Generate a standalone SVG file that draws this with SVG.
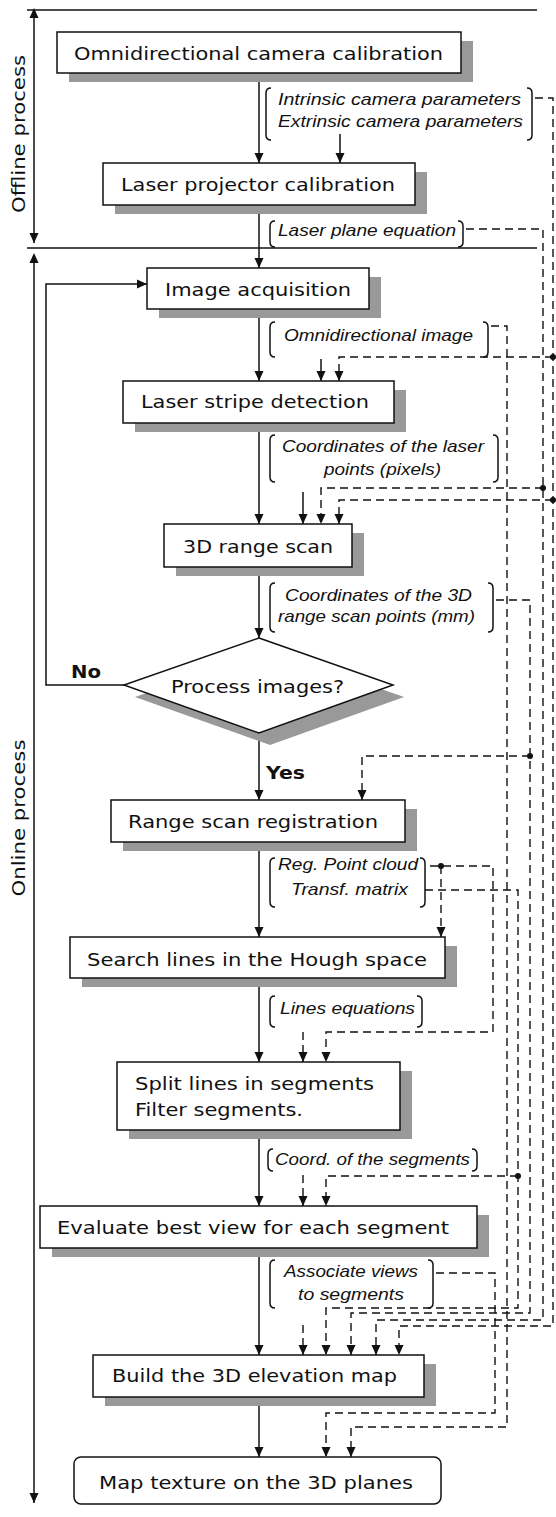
<svg xmlns="http://www.w3.org/2000/svg" width="556" height="1517" viewBox="0 0 556 1517">
<style>
.bg{fill:#fff}
.box{fill:#fff;stroke:#111;stroke-width:1.5}
.sh{fill:#999}
.ln{fill:none;stroke:#111;stroke-width:1.5}
.dash{fill:none;stroke:#111;stroke-width:1.4;stroke-dasharray:8 5}
.br{fill:none;stroke:#111;stroke-width:1.5}
.t{font-family:"DejaVu Sans",Verdana,sans-serif;font-size:18px;fill:#111}
.lb{font-family:"Liberation Sans",Arial,sans-serif;font-style:italic;font-size:16.5px;fill:#111}
.b{font-weight:bold;font-size:17px}
.dot{fill:#111}
</style>
<defs>
<marker id="ah" viewBox="0 0 10 10" refX="10" refY="5" markerWidth="10" markerHeight="10" markerUnits="userSpaceOnUse" orient="auto">
<path d="M0,0.5 L10,5 L0,9.5 Z" fill="#111"/>
</marker>
<marker id="ahs" viewBox="0 0 10 10" refX="0" refY="5" markerWidth="10" markerHeight="10" markerUnits="userSpaceOnUse" orient="auto-start-reverse">
<path d="M0,0.5 L10,5 L0,9.5 Z" fill="#111"/>
</marker>
</defs>
<rect class="bg" x="0" y="0" width="556" height="1517"/>

<g id="frame">
<line class="ln" x1="27" y1="10" x2="537" y2="10"/>
<line class="ln" x1="27" y1="248" x2="537" y2="248"/>
<line class="ln" x1="34" y1="18" x2="34" y2="243" marker-start="url(#ahs)" marker-end="url(#ah)"/>
<line class="ln" x1="34" y1="263" x2="34" y2="1503" marker-start="url(#ahs)" marker-end="url(#ah)"/>
<text class="t" transform="translate(25,134) rotate(-90)" text-anchor="middle" font-size="18" textLength="158" lengthAdjust="spacingAndGlyphs">Offline process</text>
<text class="t" transform="translate(25,818) rotate(-90)" text-anchor="middle" font-size="18" textLength="157" lengthAdjust="spacingAndGlyphs">Online process</text>
</g>

<g id="connectors">
<line class="ln" x1="259" y1="73" x2="259" y2="163" marker-end="url(#ah)"/>
<line class="ln" x1="259" y1="205" x2="259" y2="268" marker-end="url(#ah)"/>
<line class="ln" x1="259" y1="309" x2="259" y2="381" marker-end="url(#ah)"/>
<line class="ln" x1="259" y1="423" x2="259" y2="524" marker-end="url(#ah)"/>
<line class="ln" x1="259" y1="567" x2="259" y2="638" marker-end="url(#ah)"/>
<line class="ln" x1="259" y1="733" x2="259" y2="800" marker-end="url(#ah)"/>
<line class="ln" x1="259" y1="842" x2="259" y2="937" marker-end="url(#ah)"/>
<line class="ln" x1="259" y1="978" x2="259" y2="1062" marker-end="url(#ah)"/>
<line class="ln" x1="259" y1="1130" x2="259" y2="1206" marker-end="url(#ah)"/>
<line class="ln" x1="259" y1="1248" x2="259" y2="1355" marker-end="url(#ah)"/>
<line class="ln" x1="259" y1="1397" x2="259" y2="1457" marker-end="url(#ah)"/>
<path class="ln" d="M124,685 H46 V284 H147" marker-end="url(#ah)"/>
<text class="t b" x="71" y="678" textLength="30" lengthAdjust="spacingAndGlyphs">No</text>
<text class="t b" x="266" y="779" textLength="39" lengthAdjust="spacingAndGlyphs">Yes</text>

<line class="ln" x1="340" y1="134" x2="340" y2="163" marker-end="url(#ah)"/>
<line class="ln" x1="321" y1="359" x2="321" y2="381" marker-end="url(#ah)"/>
<line class="ln" x1="303" y1="492" x2="303" y2="524" marker-end="url(#ah)"/>
<line class="dash" x1="303" y1="1032" x2="303" y2="1062" marker-end="url(#ah)"/>
<line class="dash" x1="303" y1="1175" x2="303" y2="1206" marker-end="url(#ah)"/>
<line class="dash" x1="303" y1="1325" x2="303" y2="1355" marker-end="url(#ah)"/>

<path class="dash" d="M535,98 H553 V1326 H399 V1355" marker-end="url(#ah)"/>
<path class="dash" d="M553,357 H339 V381" marker-end="url(#ah)"/>
<path class="dash" d="M553,500 H339 V524" marker-end="url(#ah)"/>
<path class="dash" d="M466,229 H543 V1320 H376 V1355" marker-end="url(#ah)"/>
<path class="dash" d="M543,488 H321 V524" marker-end="url(#ah)"/>
<path class="dash" d="M491,326 H507 V1427 H351 V1457" marker-end="url(#ah)"/>
<path class="dash" d="M496,600 H530 V1313 H351 V1355" marker-end="url(#ah)"/>
<path class="dash" d="M530,756 H362 V800" marker-end="url(#ah)"/>
<path class="dash" d="M430,866 H493 V1032 H326 V1062" marker-end="url(#ah)"/>
<path class="dash" d="M441,866 V937" marker-end="url(#ah)"/>
<path class="dash" d="M425,890 H518 V1308 H326 V1355" marker-end="url(#ah)"/>
<path class="dash" d="M518,1176 H326 V1206" marker-end="url(#ah)"/>
<path class="dash" d="M436,1273 H495 V1413 H326 V1457" marker-end="url(#ah)"/>
<circle class="dot" cx="553" cy="357" r="3"/>
<circle class="dot" cx="543" cy="488" r="3"/>
<circle class="dot" cx="553" cy="500" r="3"/>
<circle class="dot" cx="530" cy="756" r="3"/>
<circle class="dot" cx="441" cy="866" r="3"/>
<circle class="dot" cx="518" cy="1176" r="3"/>
</g>

<g id="labels">
<path class="br" d="M271,88 Q266,88 266,93 V135 Q266,140 271,140"/>
<path class="br" d="M527,88 Q532,88 532,93 V135 Q532,140 527,140"/>
<text class="lb" x="278" y="105" textLength="243" lengthAdjust="spacingAndGlyphs">Intrinsic camera parameters</text>
<text class="lb" x="278" y="127" textLength="245" lengthAdjust="spacingAndGlyphs">Extrinsic camera parameters</text>

<path class="br" d="M275,221 Q270,221 270,226 V242 Q270,247 275,247"/>
<path class="br" d="M458,221 Q463,221 463,226 V242 Q463,247 458,247"/>
<text class="lb" x="278" y="236" textLength="178" lengthAdjust="spacingAndGlyphs">Laser plane equation</text>

<path class="br" d="M275,322 Q270,322 270,327 V352 Q270,357 275,357"/>
<path class="br" d="M483,322 Q488,322 488,327 V352 Q488,357 483,357"/>
<text class="lb" x="284" y="341" textLength="189" lengthAdjust="spacingAndGlyphs">Omnidirectional image</text>

<path class="br" d="M275,435 Q270,435 270,440 V477 Q270,482 275,482"/>
<path class="br" d="M493,435 Q498,435 498,440 V477 Q498,482 493,482"/>
<text class="lb" x="282" y="452" textLength="202" lengthAdjust="spacingAndGlyphs">Coordinates of the laser</text>
<text class="lb" x="324" y="475" textLength="117" lengthAdjust="spacingAndGlyphs">points (pixels)</text>

<path class="br" d="M275,583 Q270,583 270,588 V627 Q270,632 275,632"/>
<path class="br" d="M488,583 Q493,583 493,588 V627 Q493,632 488,632"/>
<text class="lb" x="285" y="601" textLength="187" lengthAdjust="spacingAndGlyphs">Coordinates of the 3D</text>
<text class="lb" x="278" y="622" textLength="197" lengthAdjust="spacingAndGlyphs">range scan points (mm)</text>

<path class="br" d="M275,858 Q270,858 270,863 V902 Q270,907 275,907"/>
<path class="br" d="M420,858 Q425,858 425,863 V902 Q425,907 420,907"/>
<text class="lb" x="278" y="870" textLength="140" lengthAdjust="spacingAndGlyphs">Reg. Point cloud</text>
<text class="lb" x="291" y="895" textLength="117" lengthAdjust="spacingAndGlyphs">Transf. matrix</text>

<path class="br" d="M275,996 Q270,996 270,1001 V1022 Q270,1027 275,1027"/>
<path class="br" d="M417,996 Q422,996 422,1001 V1022 Q422,1027 417,1027"/>
<text class="lb" x="280" y="1014" textLength="135" lengthAdjust="spacingAndGlyphs">Lines equations</text>

<path class="br" d="M273,1149 Q268,1149 268,1154 V1166 Q268,1171 273,1171"/>
<path class="br" d="M472,1149 Q477,1149 477,1154 V1166 Q477,1171 472,1171"/>
<text class="lb" x="275" y="1165" textLength="195" lengthAdjust="spacingAndGlyphs">Coord. of the segments</text>

<path class="br" d="M275,1260 Q270,1260 270,1265 V1303 Q270,1308 275,1308"/>
<path class="br" d="M428,1260 Q433,1260 433,1265 V1303 Q433,1308 428,1308"/>
<text class="lb" x="284" y="1277" textLength="134" lengthAdjust="spacingAndGlyphs">Associate views</text>
<text class="lb" x="298" y="1300" textLength="106" lengthAdjust="spacingAndGlyphs">to segments</text>
</g>

<g id="n1">
<rect class="sh" x="69" y="41" width="404" height="41"/>
<rect class="box" x="57" y="32" width="404" height="41"/>
<text class="t" x="74" y="60" textLength="369" lengthAdjust="spacingAndGlyphs">Omnidirectional camera calibration</text>
</g>
<g id="n2">
<rect class="sh" x="115" y="172" width="312" height="42"/>
<rect class="box" x="103" y="163" width="312" height="42"/>
<text class="t" x="121" y="191" textLength="274" lengthAdjust="spacingAndGlyphs">Laser projector calibration</text>
</g>
<g id="n3">
<rect class="sh" x="159" y="277" width="222" height="41"/>
<rect class="box" x="147" y="268" width="222" height="41"/>
<text class="t" x="165" y="296" textLength="186" lengthAdjust="spacingAndGlyphs">Image acquisition</text>
</g>
<g id="n4">
<rect class="sh" x="135" y="390" width="271" height="42"/>
<rect class="box" x="123" y="381" width="271" height="42"/>
<text class="t" x="141" y="408" textLength="228" lengthAdjust="spacingAndGlyphs">Laser stripe detection</text>
</g>
<g id="n5">
<rect class="sh" x="176" y="533" width="188" height="43"/>
<rect class="box" x="164" y="524" width="188" height="43"/>
<text class="t" x="183" y="553" textLength="150" lengthAdjust="spacingAndGlyphs">3D range scan</text>
</g>
<g id="n6">
<polygon class="sh" points="270,650 404,697 270,745 135,697"/>
<polygon class="box" points="259,638 393,685 259,733 124,685"/>
<text class="t" x="171" y="693" textLength="173" lengthAdjust="spacingAndGlyphs">Process images?</text>
</g>
<g id="n7">
<rect class="sh" x="123" y="809" width="294" height="42"/>
<rect class="box" x="111" y="800" width="294" height="42"/>
<text class="t" x="128" y="828" textLength="250" lengthAdjust="spacingAndGlyphs">Range scan registration</text>
</g>
<g id="n8">
<rect class="sh" x="82" y="946" width="375" height="41"/>
<rect class="box" x="70" y="937" width="375" height="41"/>
<text class="t" x="87" y="966" textLength="340" lengthAdjust="spacingAndGlyphs">Search lines in the Hough space</text>
</g>
<g id="n9">
<rect class="sh" x="129" y="1071" width="283" height="68"/>
<rect class="box" x="117" y="1062" width="283" height="68"/>
<text class="t" x="135" y="1090" textLength="239" lengthAdjust="spacingAndGlyphs">Split lines in segments</text>
<text class="t" x="135" y="1116" textLength="168" lengthAdjust="spacingAndGlyphs">Filter segments.</text>
</g>
<g id="n10">
<rect class="sh" x="52" y="1215" width="437" height="42"/>
<rect class="box" x="40" y="1206" width="437" height="42"/>
<text class="t" x="57" y="1234" textLength="392" lengthAdjust="spacingAndGlyphs">Evaluate best view for each segment</text>
</g>
<g id="n11">
<rect class="sh" x="105" y="1364" width="331" height="42"/>
<rect class="box" x="93" y="1355" width="331" height="42"/>
<text class="t" x="112" y="1382" textLength="285" lengthAdjust="spacingAndGlyphs">Build the 3D elevation map</text>
</g>
<g id="n12">
<rect class="box" x="74" y="1457" width="367" height="47" rx="7"/>
<text class="t" x="99" y="1489" textLength="314" lengthAdjust="spacingAndGlyphs">Map texture on the 3D planes</text>
</g>
</svg>
